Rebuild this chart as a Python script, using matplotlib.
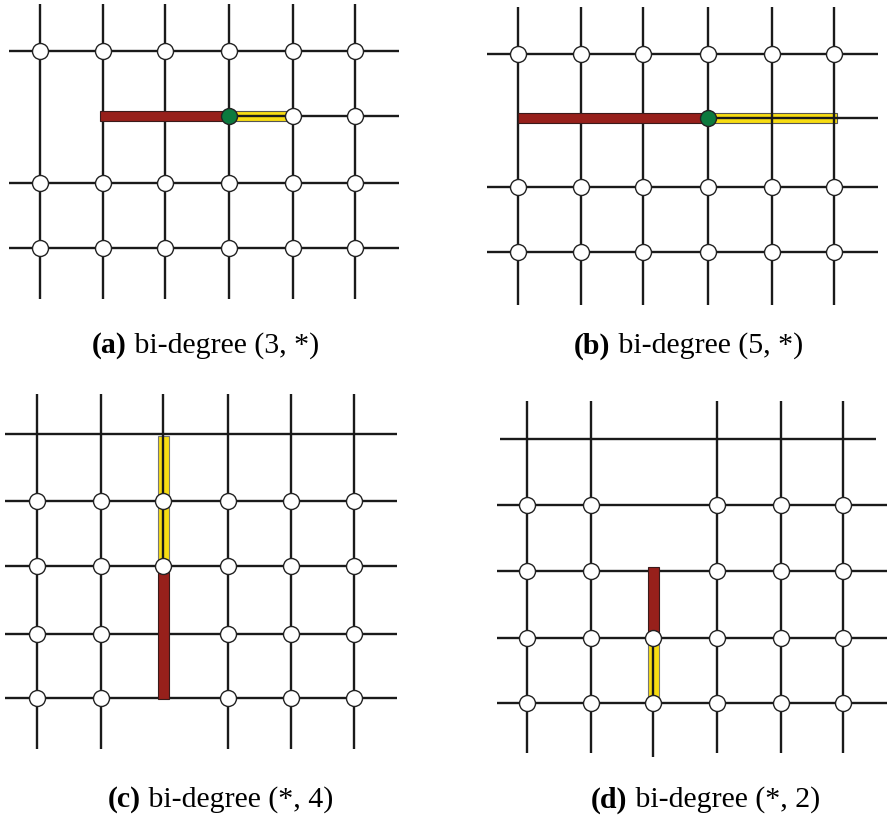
import matplotlib.pyplot as plt

# pixel positions (x right, y down)
cols_a = [40, 103, 165, 229, 293, 355]
rows_a = [52, 117, 184, 249]
cols_b = [518, 581, 643, 708, 772, 834]
rows_b = [55, 119, 188, 253]
cols_c = [37, 101, 163, 228, 291, 354]
rows_c = [435, 502, 567, 635, 699]
cols_d = [527, 591, 653, 717, 781, 843]
rows_d = [440, 506, 572, 639, 704]

# nodes as (col index, row index)
nodes_a = [(c, 0) for c in range(6)] + [(4, 1), (5, 1)] + [(c, r) for r in (2, 3) for c in range(6)]
nodes_b = [(c, 0) for c in range(6)] + [(c, r) for r in (2, 3) for c in range(6)]
nodes_c = [(c, r) for r in (1, 2) for c in range(6)] + [(c, r) for r in (3, 4) for c in (0, 1, 3, 4, 5)]
nodes_d = [(c, r) for r in (1, 2) for c in (0, 1, 3, 4, 5)] + [(c, r) for r in (3, 4) for c in range(6)]

captions = ['(a)', '(b)', '(c)', '(d)']
labels = [' bi-degree (3, *)', ' bi-degree (5, *)', ' bi-degree (*, 4)', ' bi-degree (*, 2)']

RED = '#97201b'
YELLOW = '#f7dc12'
GREEN = '#0c7a3e'
LW = 1.7

fig = plt.figure(figsize=(8.88, 8.20), dpi=100)
ax = fig.add_axes([0, 0, 1, 1])
ax.set_xlim(0, 888)
ax.set_ylim(820, 0)
ax.axis('off')


def vline(x, y0, y1):
    ax.plot([x, x], [y0, y1], color='#1a1a1a', lw=LW, zorder=2, solid_capstyle='butt')


def hline(y, x0, x1):
    ax.plot([x0, x1], [y, y], color='#1a1a1a', lw=LW, zorder=2, solid_capstyle='butt')


def hbar(x0, x1, y, color, z):
    ax.add_patch(plt.Rectangle((x0, y - 5), x1 - x0, 10, facecolor=color,
                               edgecolor='#555555' if color == YELLOW else '#3a1a1a', lw=0.8, zorder=z))


def vbar(x, y0, y1, color, z):
    ax.add_patch(plt.Rectangle((x - 5.5, y0), 11, y1 - y0, facecolor=color,
                               edgecolor='#777777' if color == YELLOW else '#3a1a1a', lw=0.8, zorder=z))


def nodes(cols, rows, pts):
    ax.plot([cols[c] for c, r in pts], [rows[r] for c, r in pts], 'o', ms=11.5,
            mfc='white', mec='#222222', mew=1.0, zorder=5)


# (a)
for x in cols_a:
    vline(x, 5, 300)
for i, y in enumerate(rows_a):
    hline(y, 100 if i == 1 else 9, 399)
hbar(229, 293, rows_a[1], YELLOW, 1)
hbar(100, 229, rows_a[1], RED, 3)
nodes(cols_a, rows_a, nodes_a)
ax.plot(cols_a[3], rows_a[1], 'o', ms=11.5, mfc=GREEN, mec='#222222', mew=1.0, zorder=6)

# (b)
for x in cols_b:
    vline(x, 8, 306)
for i, y in enumerate(rows_b):
    hline(y, 518 if i == 1 else 487, 878)
hbar(708, 837, rows_b[1], YELLOW, 1)
hbar(518, 708, rows_b[1], RED, 3)
nodes(cols_b, rows_b, nodes_b)
ax.plot(cols_b[3], rows_b[1], 'o', ms=11.5, mfc=GREEN, mec='#222222', mew=1.0, zorder=6)

# (c)
for i, x in enumerate(cols_c):
    vline(x, 395, 700 if i == 2 else 750)
for y in rows_c:
    hline(y, 5, 397)
vbar(cols_c[2], 437, rows_c[2], YELLOW, 1)
vbar(cols_c[2], rows_c[2], 700, RED, 3)
nodes(cols_c, rows_c, nodes_c)

# (d)
for i, x in enumerate(cols_d):
    vline(x, 568 if i == 2 else 402, 758 if i == 2 else 754)
for i, y in enumerate(rows_d):
    hline(y, 500 if i == 0 else 497, 876 if i == 0 else 887)
vbar(cols_d[2], rows_d[3], 703, YELLOW, 1)
vbar(cols_d[2], 568, rows_d[3], RED, 3)
nodes(cols_d, rows_d, nodes_d)

# captions
cap_pos = [(92, 346), (574, 346), (108, 800), (591, 800)]
for (x, y), c, t in zip(cap_pos, captions, labels):
    tx = ax.text(x, y, c, fontsize=21.5, fontweight='bold', family='Liberation Serif', va='center', ha='left')
    ax.annotate(t, xycoords=tx, xy=(1, 0.5), va='center', ha='left',
                fontsize=21.5, family='Liberation Serif')

fig.savefig('out.png', dpi=100)
